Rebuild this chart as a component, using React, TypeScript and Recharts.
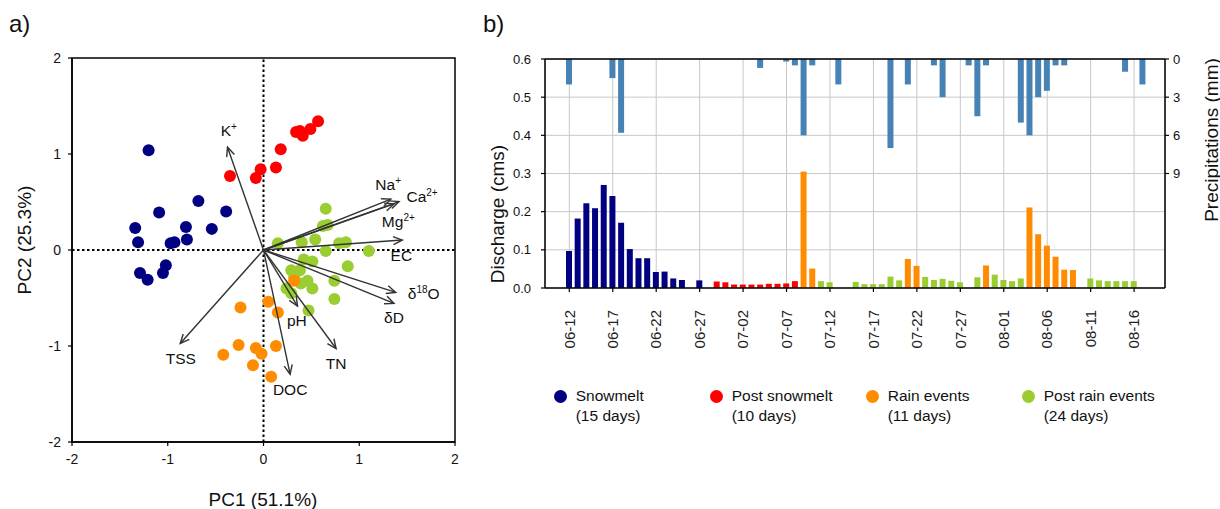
import React from 'react';
import {
  ScatterChart,
  Scatter,
  XAxis,
  YAxis,
  ReferenceLine,
  ReferenceArea,
  BarChart,
  Bar,
  CartesianGrid,
} from 'recharts';

const FONT = '"Liberation Sans", Arial, Helvetica, sans-serif';

// ---------------- Panel a: PCA scores ----------------
const snowmeltPC1 = [-1.2, -0.68, -1.09, -0.39, -1.34, -0.81, -0.54, -1.31, -0.97, -0.93, -0.8, -1.02, -1.05, -1.29, -1.21];
const snowmeltPC2 = [1.04, 0.51, 0.39, 0.4, 0.23, 0.24, 0.22, 0.08, 0.07, 0.08, 0.11, -0.16, -0.24, -0.24, -0.31];

const postSnowPC1 = [-0.35, -0.08, -0.03, 0.13, 0.18, 0.34, 0.38, 0.41, 0.49, 0.57];
const postSnowPC2 = [0.77, 0.75, 0.84, 0.86, 1.05, 1.23, 1.24, 1.19, 1.26, 1.34];

const rainPC1 = [0.32, -0.24, 0.05, 0.15, -0.26, -0.08, -0.02, 0.13, -0.42, -0.11, 0.08];
const rainPC2 = [-0.32, -0.6, -0.54, -0.65, -0.99, -1.02, -1.08, -1.0, -1.09, -1.2, -1.32];

const postRainPC1 = [0.65, 0.62, 0.67, 0.15, 0.4, 0.54, 0.79, 0.86, 0.65, 1.1, 0.42, 0.51, 0.88, 0.29, 0.38, 0.46, 0.51, 0.24, 0.74, 0.74, 0.47, 0.32, 0.39, 0.29];
const postRainPC2 = [0.43, 0.25, 0.26, 0.07, 0.08, 0.11, 0.07, 0.08, -0.01, -0.01, -0.1, -0.12, -0.17, -0.21, -0.21, -0.32, -0.4, -0.4, -0.32, -0.51, -0.63, -0.28, -0.35, -0.45];

const groupNames = ['Snowmelt', 'Post snowmelt', 'Rain events', 'Post rain events'];
const groupDays = [15, 10, 11, 24];
const groupColors = ['#000080', '#ff0000', '#ff8c00', '#9acd32'];

// loadings (arrow tips)
const loadingBase = ['K', 'Na', 'Ca', 'Mg', 'EC', 'δ', 'δD', 'pH', 'TN', 'DOC', 'TSS'];
const loadingSup = ['+', '+', '2+', '2+', '', '18', '', '', '', '', ''];
const loadingTail = ['', '', '', '', '', 'O', '', '', '', '', ''];
const loadingPC1 = [-0.376, 1.33, 1.416, 1.363, 1.45, 1.381, 1.363, 0.355, 0.758, 0.278, -0.87];
const loadingPC2 = [1.071, 0.53, 0.504, 0.48, 0.104, -0.442, -0.557, -0.584, -1.026, -1.294, -0.974];

const pcaTicks = [-2, -1, 0, 1, 2];

// layout: label offsets from arrow tip (px)
const labelDx = [1.3, -2.7, 23, 4.3, -1, 28, 0, -0.7, 0, 0, 0.7];
const labelDy = [-16.3, -15, -5, 17.7, 15.7, 1, 14.3, 14.7, 15, 15.3, 15];

const zip = (a: number[], b: number[]) => a.map((x, i) => ({ x, y: b[i] }));
const scoreSets = [
  zip(snowmeltPC1, snowmeltPC2),
  zip(postSnowPC1, postSnowPC2),
  zip(rainPC1, rainPC2),
  zip(postRainPC1, postRainPC2),
];
const drawOrder = [3, 2, 0, 1];

const loadingData = loadingBase.map((b, i) => ({
  x: loadingPC1[i],
  y: loadingPC2[i],
  idx: i,
}));

// ---------------- Panel b: discharge & precipitation ----------------
const monthSpans: [string, number, number][] = [
  ['06', 10, 30],
  ['07', 1, 31],
  ['08', 1, 19],
];
const dayLabels: string[] = [];
for (const [m, a, b] of monthSpans) {
  for (let d = a; d <= b; d++) dayLabels.push(`${m}-${String(d).padStart(2, '0')}`);
}

const snowmeltDates = ['06-12', '06-13', '06-14', '06-15', '06-16', '06-17', '06-18', '06-19', '06-20', '06-21', '06-22', '06-23', '06-24', '06-25', '06-27'];
const snowmeltQ = [0.097, 0.182, 0.222, 0.209, 0.27, 0.241, 0.171, 0.102, 0.078, 0.078, 0.042, 0.043, 0.025, 0.021, 0.02];

const postSnowDates = ['06-29', '06-30', '07-01', '07-02', '07-03', '07-04', '07-05', '07-06', '07-07', '07-08'];
const postSnowQ = [0.017, 0.015, 0.009, 0.009, 0.009, 0.009, 0.011, 0.011, 0.012, 0.018];

const rainDates = ['07-09', '07-10', '07-21', '07-22', '07-30', '08-04', '08-05', '08-06', '08-07', '08-08', '08-09'];
const rainQ = [0.305, 0.051, 0.076, 0.058, 0.059, 0.211, 0.141, 0.111, 0.082, 0.048, 0.047];

const postRainDates = ['07-11', '07-12', '07-15', '07-16', '07-17', '07-18', '07-19', '07-20', '07-23', '07-24', '07-25', '07-26', '07-27', '07-29', '07-31', '08-01', '08-02', '08-03', '08-11', '08-12', '08-13', '08-14', '08-15', '08-16'];
const postRainQ = [0.018, 0.015, 0.016, 0.01, 0.01, 0.01, 0.03, 0.02, 0.029, 0.021, 0.024, 0.019, 0.015, 0.028, 0.035, 0.021, 0.018, 0.025, 0.025, 0.02, 0.018, 0.018, 0.018, 0.018];

const precipDates = ['06-12', '06-17', '06-18', '07-04', '07-07', '07-08', '07-09', '07-10', '07-13', '07-19', '07-21', '07-24', '07-25', '07-28', '07-29', '07-30', '08-03', '08-04', '08-05', '08-06', '08-07', '08-08', '08-15', '08-17'];
const precipMm = [2.0, 1.5, 5.8, 0.7, 0.2, 0.5, 6.0, 0.5, 2.0, 7.0, 2.0, 0.5, 3.0, 0.5, 4.5, 0.5, 5.0, 6.0, 3.0, 2.5, 0.5, 0.5, 1.0, 2.0];

const dateTicks = ['06-12', '06-17', '06-22', '06-27', '07-02', '07-07', '07-12', '07-17', '07-22', '07-27', '08-01', '08-06', '08-11', '08-16'];
const dischargeTicks = [0, 0.1, 0.2, 0.3, 0.4, 0.5, 0.6];
const precipTicks = [0, 3, 6, 9];

const toMap = (dates: string[], vals: number[]) => {
  const m = new Map<string, number>();
  dates.forEach((d, i) => m.set(d, vals[i]));
  return m;
};
const smMap = toMap(snowmeltDates, snowmeltQ);
const psMap = toMap(postSnowDates, postSnowQ);
const rnMap = toMap(rainDates, rainQ);
const prMap = toMap(postRainDates, postRainQ);
const ppMap = toMap(precipDates, precipMm);

const hydroData = dayLabels.map((date) => ({
  date,
  snowmelt: smMap.get(date) ?? null,
  postSnow: psMap.get(date) ?? null,
  rain: rnMap.get(date) ?? null,
  postRain: prMap.get(date) ?? null,
  precip: ppMap.get(date) ?? null,
}));

const dischargeKeys = ['snowmelt', 'postSnow', 'rain', 'postRain'];

// ---------------- shapes ----------------
const Arrow = (props: any) => {
  const { x1, y1, x2, y2 } = props;
  const a = Math.atan2(y2 - y1, x2 - x1);
  const L = 10;
  const w = 0.42;
  const p1 = [x2 - L * Math.cos(a - w), y2 - L * Math.sin(a - w)];
  const p2 = [x2 - L * Math.cos(a + w), y2 - L * Math.sin(a + w)];
  return (
    <g>
      <line x1={x1} y1={y1} x2={x2} y2={y2} stroke="#333" strokeWidth={1.4} />
      <polyline
        points={`${p1[0]},${p1[1]} ${x2},${y2} ${p2[0]},${p2[1]}`}
        fill="none"
        stroke="#333"
        strokeWidth={1.4}
      />
    </g>
  );
};

const LoadingLabel = (props: any) => {
  const { cx, cy, payload } = props;
  const i = payload.idx;
  const sup = loadingSup[i];
  const tail = loadingTail[i];
  return (
    <text
      x={cx + labelDx[i]}
      y={cy + labelDy[i] + 5.5}
      textAnchor="middle"
      fontFamily={FONT}
      fontSize={15.5}
      fill="#111"
    >
      {loadingBase[i]}
      {sup ? (
        <tspan dy={-6} fontSize={10}>
          {sup}
        </tspan>
      ) : null}
      {tail ? <tspan dy={6}>{tail}</tspan> : null}
    </text>
  );
};

const DateTick = (props: any) => {
  const { x, y, payload } = props;
  return (
    <text
      x={x}
      y={y}
      dx={-16}
      dy="0.35em"
      transform={`rotate(-90, ${x}, ${y})`}
      textAnchor="end"
      fontFamily={FONT}
      fontSize={15}
      fill="#222"
    >
      {payload.value}
    </text>
  );
};

const abs = (extra: React.CSSProperties): React.CSSProperties => ({
  position: 'absolute',
  fontFamily: FONT,
  color: '#111',
  whiteSpace: 'nowrap',
  ...extra,
});

const RotLabel = ({ text, cx, cy, size }: { text: string; cx: number; cy: number; size: number }) => (
  <div
    style={abs({
      left: cx,
      top: cy,
      fontSize: size,
      lineHeight: 1,
      transform: 'translate(-50%, -50%) rotate(-90deg)',
    })}
  >
    {text}
  </div>
);

export default function App() {
  const axisLine = { stroke: '#000', strokeWidth: 1.5 };
  const tickLine = { stroke: '#000', strokeWidth: 1.2 };
  return (
    <div
      style={{
        position: 'absolute',
        left: 0,
        top: 0,
        width: 1220,
        height: 509,
        background: '#fff',
        overflow: 'hidden',
      }}
    >
      {/* Panel a */}
      <div style={{ position: 'absolute', left: 0, top: 0 }}>
        <ScatterChart width={480} height={470} margin={{ top: 58, right: 25, bottom: 0, left: 0 }}>
          <XAxis
            type="number"
            dataKey="x"
            domain={[-2, 2]}
            ticks={pcaTicks}
            height={28}
            axisLine={axisLine}
            tickLine={tickLine}
            tickSize={4}
            tickMargin={8}
            tick={{ fill: '#111', fontSize: 14, fontFamily: FONT }}
            allowDataOverflow
          />
          <YAxis
            type="number"
            dataKey="y"
            domain={[-2, 2]}
            ticks={pcaTicks}
            width={72}
            axisLine={axisLine}
            tickLine={tickLine}
            tickSize={4}
            tickMargin={7}
            tick={{ fill: '#111', fontSize: 14, fontFamily: FONT }}
            allowDataOverflow
          />
          <ReferenceArea x1={-2} x2={2} y1={-2} y2={2} fill="none" fillOpacity={0} stroke="#000" strokeWidth={1.5} />
          <ReferenceLine x={0} stroke="#000" strokeWidth={2} strokeDasharray="2.5 2.5" />
          <ReferenceLine y={0} stroke="#000" strokeWidth={2} strokeDasharray="2.5 2.5" />
          {drawOrder.map((g) => (
            <Scatter
              key={groupNames[g]}
              name={groupNames[g]}
              data={scoreSets[g]}
              fill={groupColors[g]}
              isAnimationActive={false}
              shape={(p: any) => <circle cx={p.cx} cy={p.cy} r={6} fill={groupColors[g]} />}
            />
          ))}
          {loadingData.map((d) => (
            <ReferenceLine
              key={'arr' + d.idx}
              segment={[
                { x: 0, y: 0 },
                { x: d.x, y: d.y },
              ]}
              shape={Arrow}
              zIndex={700}
            />
          ))}
          <Scatter
            name="labels"
            data={loadingData}
            isAnimationActive={false}
            shape={(p: any) => <LoadingLabel {...p} />}
          />
        </ScatterChart>
      </div>

      <div style={abs({ left: 9, top: 12, fontSize: 24, lineHeight: 1 })}>a)</div>
      <div style={abs({ left: 263, top: 499, fontSize: 19, lineHeight: 1, transform: 'translate(-50%, -50%)' })}>
        PC1 (51.1%)
      </div>
      <RotLabel text="PC2 (25.3%)" cx={24} cy={240} size={19} />

      {/* Panel b */}
      <div style={{ position: 'absolute', left: 480, top: 40 }}>
        <BarChart
          width={740}
          height={310}
          data={hydroData}
          margin={{ top: 19, right: 0, bottom: 0, left: 0 }}
          barSize={6}
          barGap={-6}
        >
          <CartesianGrid yAxisId="q" stroke="#c8c8c8" strokeWidth={1} />
          <XAxis
            dataKey="date"
            ticks={dateTicks}
            interval={0}
            padding={{ left: 2.6, right: 0.5 }}
            height={62}
            axisLine={axisLine}
            tickLine={tickLine}
            tickSize={4}
            tickMargin={2}
            tick={<DateTick />}
          />
          <YAxis
            yAxisId="q"
            domain={[0, 0.6]}
            ticks={dischargeTicks}
            tickFormatter={(v: number) => v.toFixed(1)}
            width={65}
            axisLine={axisLine}
            tickLine={tickLine}
            tickSize={4}
            tickMargin={10}
            tick={{ fill: '#111', fontSize: 13, fontFamily: FONT }}
            allowDataOverflow
          />
          <YAxis
            yAxisId="p"
            orientation="right"
            reversed
            domain={[0, 18]}
            ticks={precipTicks}
            width={55}
            axisLine={axisLine}
            tickLine={tickLine}
            tickSize={4}
            tickMargin={4}
            tick={{ fill: '#111', fontSize: 13, fontFamily: FONT }}
            allowDataOverflow
          />
          <ReferenceLine yAxisId="q" y={0.6} stroke="#000" strokeWidth={1.5} />
          <Bar yAxisId="p" dataKey="precip" fill="#4682b4" isAnimationActive={false} />
          {dischargeKeys.map((k, i) => (
            <Bar key={k} yAxisId="q" dataKey={k} name={groupNames[i]} fill={groupColors[i]} isAnimationActive={false} />
          ))}
        </BarChart>
      </div>

      <div style={abs({ left: 483, top: 12, fontSize: 24, lineHeight: 1 })}>b)</div>
      <RotLabel text="Discharge (cms)" cx={497} cy={214} size={19} />
      <RotLabel text="Precipitations (mm)" cx={1211} cy={140} size={19} />

      {/* Legend */}
      {groupNames.map((name, i) => {
        const cx = 560.7 + i * 156;
        return (
          <React.Fragment key={name}>
            <div
              style={{
                position: 'absolute',
                left: cx - 6.5,
                top: 396.7 - 6.5,
                width: 13,
                height: 13,
                borderRadius: '50%',
                background: groupColors[i],
              }}
            />
            <div style={abs({ left: cx + 15, top: 386.3, fontSize: 15.5, lineHeight: '20px' })}>
              {name}
              <br />({groupDays[i]} days)
            </div>
          </React.Fragment>
        );
      })}
    </div>
  );
}
